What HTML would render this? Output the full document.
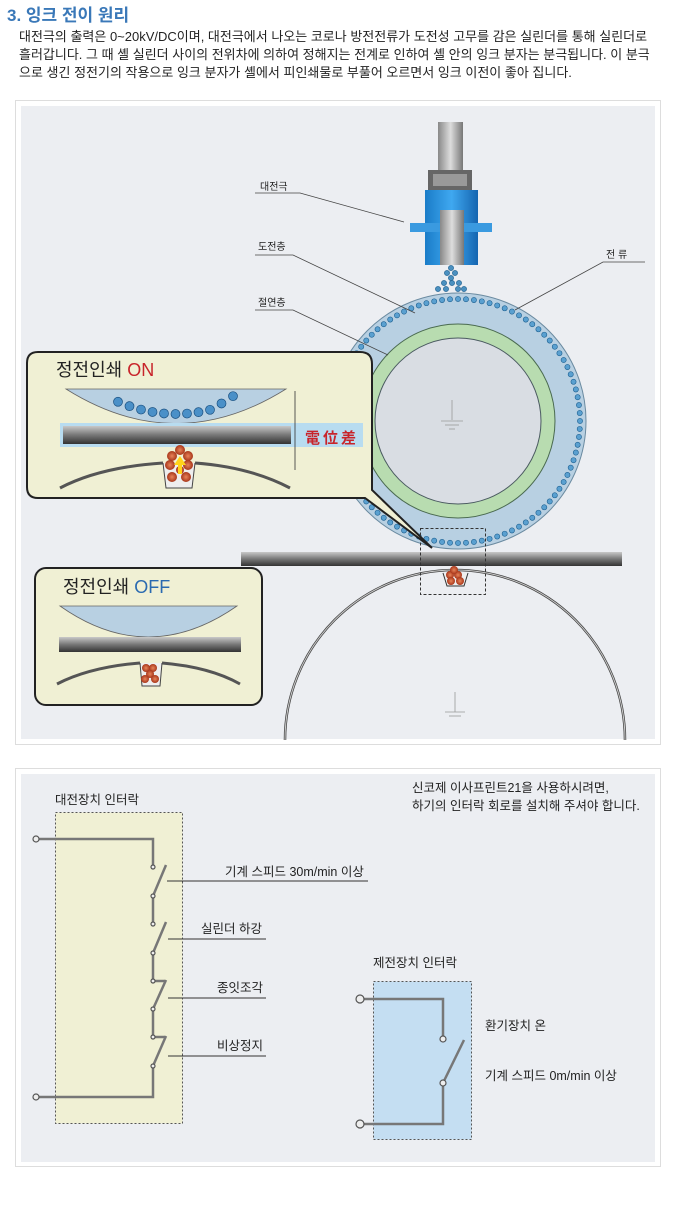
<!DOCTYPE html>
<html><head><meta charset="utf-8"><style>
body{margin:0;width:684px;height:1203px;background:#fff;font-family:"Liberation Sans","Noto Sans CJK KR",sans-serif;overflow:hidden}
svg text{font-family:"Liberation Sans","Noto Sans CJK KR",sans-serif}
</style></head><body>
<svg width="684" height="1203" viewBox="0 0 684 1203" xmlns="http://www.w3.org/2000/svg">
<defs>
<linearGradient id="bar" x1="0" y1="0" x2="0" y2="1"><stop offset="0" stop-color="#c8c8c8"/><stop offset="0.5" stop-color="#777"/><stop offset="1" stop-color="#333"/></linearGradient>
<linearGradient id="blu" x1="0" y1="0" x2="1" y2="0"><stop offset="0" stop-color="#1a7cc8"/><stop offset="0.5" stop-color="#3fa8f0"/><stop offset="1" stop-color="#1565b0"/></linearGradient>
<linearGradient id="gr" x1="0" y1="0" x2="1" y2="0"><stop offset="0" stop-color="#888"/><stop offset="0.5" stop-color="#ddd"/><stop offset="1" stop-color="#777"/></linearGradient>
<radialGradient id="ball"><stop offset="0" stop-color="#e8845a"/><stop offset="1" stop-color="#a8361a"/></radialGradient>
</defs>
<text x="7" y="21" font-size="17" font-weight="bold" fill="#3a78b8">3. 잉크 전이 원리</text>
<text x="19" y="41" font-size="13" fill="#222">대전극의 출력은 0~20kV/DC이며, 대전극에서 나오는 코로나 방전전류가 도전성 고무를 감은 실린더를 통해 실린더로</text>
<text x="19" y="59" font-size="13" fill="#222">흘러갑니다. 그 때 셸 실린더 사이의 전위차에 의하여 정해지는 전계로 인하여 셸 안의 잉크 분자는 분극됩니다. 이 분극</text>
<text x="19" y="77" font-size="13" fill="#222">으로 생긴 정전기의 작용으로 잉크 분자가 셸에서 피인쇄물로 부풀어 오르면서 잉크 이전이 좋아 집니다.</text>

<rect x="15.5" y="100.5" width="645" height="644" fill="#fff" stroke="#ddd"/>
<rect x="21" y="106" width="634" height="633" fill="#eceef2"/>
<rect x="438" y="122" width="25" height="50" fill="url(#gr)"/>
<rect x="428" y="170" width="44" height="20" fill="#666"/>
<rect x="433" y="174" width="34" height="12" fill="#999"/>
<rect x="425" y="190" width="53" height="75" fill="url(#blu)"/>
<rect x="410" y="223" width="82" height="9" fill="#3a9ae0"/>
<rect x="440" y="210" width="24" height="55" fill="url(#gr)"/>
<g fill="#4a90c0" stroke="#1a5c8c" stroke-width="0.6">
<circle cx="451" cy="268" r="2.6"/><circle cx="447" cy="273" r="2.6"/><circle cx="455" cy="273" r="2.6"/><circle cx="451" cy="278" r="2.6"/>
<circle cx="444" cy="283" r="2.6"/><circle cx="452" cy="283" r="2.6"/><circle cx="459" cy="283" r="2.6"/>
<circle cx="438" cy="289" r="2.6"/><circle cx="446" cy="289" r="2.6"/><circle cx="458" cy="289" r="2.6"/><circle cx="464" cy="289" r="2.6"/>
</g>
<circle cx="458" cy="421" r="128" fill="#b8d0e2" stroke="#6a8aa0"/>
<circle cx="458" cy="421" r="97" fill="#b8dcb0" stroke="#4a6a50"/>
<circle cx="458" cy="421" r="83" fill="#d9dde3" stroke="#4a5a60"/>
<g id="dots" fill="#5aa0d0" stroke="#1c5f90" stroke-width="0.6"></g>
<g stroke="#999" stroke-width="0.8"><line x1="452" y1="400" x2="452" y2="420"/><line x1="441" y1="421" x2="463" y2="421"/><line x1="445" y1="425" x2="459" y2="425"/><line x1="449" y1="429" x2="455" y2="429"/></g>
<g font-size="10" fill="#222">
<text x="260" y="190">대전극</text><text x="258" y="250">도전층</text><text x="258" y="306">절연층</text><text x="606" y="258">전 류</text></g>
<g stroke="#444" stroke-width="0.8" fill="none">
<polyline points="255,193 300,193 404,222"/><polyline points="255,255 293,255 415,313"/><polyline points="255,310 293,310 388,355"/><polyline points="645,262 603,262 515,310"/></g>
<path d="M285,740 A170,170 0 0 1 625,740" fill="none" stroke="#444" stroke-width="2.5"/>
<path d="M285,740 A170,170 0 0 1 625,740" fill="none" stroke="#ccc" stroke-width="1"/>
<g stroke="#999" stroke-width="0.8"><line x1="455" y1="692" x2="455" y2="712"/><line x1="445" y1="712" x2="465" y2="712"/><line x1="449" y1="716" x2="461" y2="716"/></g>
<rect x="241" y="552" width="381" height="14" fill="url(#bar)"/>
<rect x="420.5" y="528.5" width="65" height="66" fill="none" stroke="#333" stroke-dasharray="3,2"/>
<path d="M443,573 L447,586 L464,586 L468,573" fill="#eee" stroke="#333"/>
<g fill="url(#ball)"><circle cx="450" cy="575" r="4"/><circle cx="458" cy="575" r="4"/><circle cx="454" cy="570" r="4"/><circle cx="451" cy="581" r="4"/><circle cx="460" cy="581" r="4"/></g>
<path d="M38,352 H360 Q372,352 372,364 V490 L432,548 L365,498 H38 Q27,498 27,487 V363 Q27,352 38,352Z" fill="#f0f0d4" stroke="#222" stroke-width="2"/>
<text x="56" y="376" font-size="18" fill="#222">정전인쇄 <tspan fill="#c8242a">ON</tspan></text>
<path d="M66,389 Q176,458 286,389Z" fill="#b8d0e2" stroke="#666" stroke-width="0.8"/>
<g fill="#4a90c8" stroke="#1a5080" stroke-width="0.7" id="onb"></g>
<rect x="60" y="423" width="303" height="24" fill="#b8dcf0"/>
<rect x="63" y="426" width="228" height="18" fill="url(#bar)"/>
<text x="305" y="443" font-size="15" font-weight="bold" fill="#c8242a" letter-spacing="3">電位差</text>
<line x1="295" y1="391" x2="295" y2="470" stroke="#333" stroke-width="0.8"/>
<path d="M60,488 Q100,467 163,463 M195,463 Q250,467 290,488" fill="none" stroke="#555" stroke-width="3"/>
<path d="M163,463 L166,488 L192,488 L195,463" fill="#eee" stroke="#444"/>
<g fill="url(#ball)"><circle cx="180" cy="450" r="5"/><circle cx="172" cy="456" r="5"/><circle cx="188" cy="456" r="5"/><circle cx="170" cy="465" r="5"/><circle cx="188" cy="465" r="5"/><circle cx="172" cy="477" r="5"/><circle cx="186" cy="477" r="5"/><circle cx="180" cy="470" r="4"/></g>
<path d="M180,456 L186,465 L182,465 L182,474 L178,474 L178,465 L174,465Z" fill="#ffd21a"/>
<rect x="35" y="568" width="227" height="137" rx="11" fill="#f0f0d4" stroke="#222" stroke-width="2"/>
<text x="63" y="593" font-size="18" fill="#222">정전인쇄 <tspan fill="#2a6ab0">OFF</tspan></text>
<path d="M60,606 Q148,668 237,606Z" fill="#b8d0e2" stroke="#666" stroke-width="0.8"/>
<rect x="59" y="637" width="182" height="15" fill="url(#bar)"/>
<path d="M57,684 Q90,667 140,663 M162,663 Q210,667 240,684" fill="none" stroke="#555" stroke-width="3"/>
<path d="M140,663 L142,686 L160,686 L162,663" fill="#eee" stroke="#444"/>
<g fill="url(#ball)"><circle cx="146" cy="668" r="4"/><circle cx="153" cy="668" r="4"/><circle cx="150" cy="674" r="4"/><circle cx="145" cy="679" r="4"/><circle cx="155" cy="679" r="4"/></g>

<rect x="15.5" y="768.5" width="645" height="398" fill="#fff" stroke="#ddd"/>
<rect x="21" y="774" width="634" height="388" fill="#eceef2"/>
<rect x="55.5" y="812.5" width="127" height="311" fill="#f0f0d4" stroke="#555" stroke-dasharray="2,2"/>
<rect x="373.5" y="981.5" width="98" height="158" fill="#c4def2" stroke="#555" stroke-dasharray="2,2"/>
<g font-size="12.5" fill="#222">
<text x="55" y="804">대전장치 인터락</text>
<text x="412" y="792">신코제 이사프린트21을 사용하시려면,</text>
<text x="412" y="810">하기의 인터락 회로를 설치해 주셔야 합니다.</text>
<text x="225" y="876">기계 스피드 30m/min 이상</text>
<text x="201" y="933">실린더 하강</text>
<text x="217" y="992">종잇조각</text>
<text x="217" y="1050">비상정지</text>
<text x="373" y="967">제전장치 인터락</text>
<text x="485" y="1030">환기장치 온</text>
<text x="485" y="1080">기계 스피드 0m/min 이상</text>
</g>
<g stroke="#777" stroke-width="2.5" fill="none">
<polyline points="36,839 153,839 153,867"/>
<polyline points="153,896 153,924"/>
<polyline points="153,953 153,981 165,981"/>
<polyline points="153,1009 153,1037 165,1037"/>
<polyline points="153,1066 153,1097 36,1097"/>
<line x1="153" y1="896" x2="166" y2="865"/><line x1="153" y1="953" x2="166" y2="922"/><line x1="153" y1="1009" x2="166" y2="980"/><line x1="153" y1="1066" x2="166" y2="1036"/>
<polyline points="360,999 443,999 443,1039"/>
<polyline points="443,1083 443,1124 360,1124"/>
<line x1="443" y1="1083" x2="464" y2="1040"/>
</g>
<g stroke="#333" stroke-width="0.9">
<line x1="167" y1="881" x2="368" y2="881"/><line x1="168" y1="939" x2="266" y2="939"/><line x1="168" y1="998" x2="266" y2="998"/><line x1="168" y1="1056" x2="266" y2="1056"/></g>
<g fill="#eee" stroke="#555" stroke-width="1.2">
<circle cx="36" cy="839" r="3"/><circle cx="36" cy="1097" r="3"/>
<circle cx="153" cy="867" r="2"/><circle cx="153" cy="896" r="2"/><circle cx="153" cy="924" r="2"/><circle cx="153" cy="953" r="2"/><circle cx="153" cy="981" r="2"/><circle cx="153" cy="1009" r="2"/><circle cx="153" cy="1037" r="2"/><circle cx="153" cy="1066" r="2"/>
<circle cx="360" cy="999" r="4"/><circle cx="360" cy="1124" r="4"/><circle cx="443" cy="1039" r="3"/><circle cx="443" cy="1083" r="3"/>
</g>
</svg>
<script>
(function(){var ns="http://www.w3.org/2000/svg";var g=document.getElementById("dots");
for(var i=0;i<96;i++){var a=i/96*2*Math.PI;var c=document.createElementNS(ns,"circle");c.setAttribute("cx",458+122*Math.cos(a));c.setAttribute("cy",421+122*Math.sin(a));c.setAttribute("r",2.6);g.appendChild(c);}
var o=document.getElementById("onb");for(var j=0;j<11;j++){var x=118+j*11.5;var t=(x-176)/110;var y=414-20*t*t*2.2+ (j>8?-3*(j-8):0);var d=document.createElementNS(ns,"circle");d.setAttribute("cx",x);d.setAttribute("cy",y);d.setAttribute("r",4.5);o.appendChild(d);}})();
</script>
</body></html>
